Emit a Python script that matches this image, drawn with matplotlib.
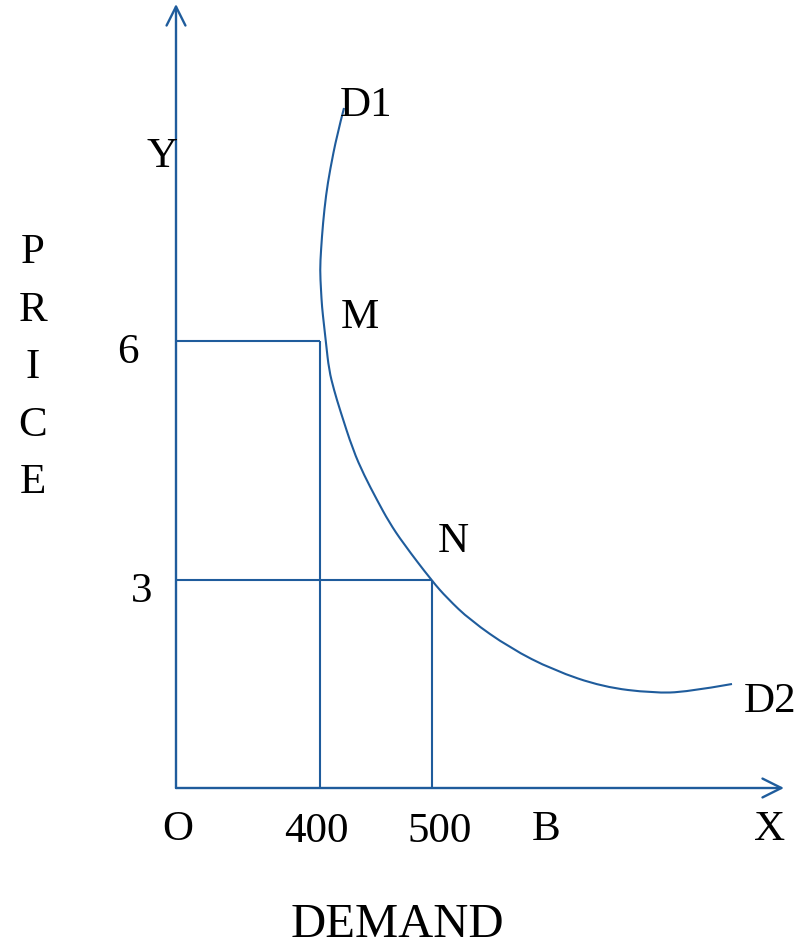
import matplotlib
matplotlib.use("Agg")
import matplotlib.pyplot as plt
from matplotlib.path import Path
from matplotlib.patches import PathPatch

# ---- data (schematic coordinates, origin O at (0, 0)) ----
curve_x = [168, 161, 154, 150, 147, 145, 144, 145, 146, 148, 150, 153, 158, 164,
           177, 188, 201, 213, 227, 256, 271, 294, 334, 377, 427, 477, 511, 556]
curve_y = [680, 653, 618, 593, 565, 538, 518, 498, 481, 463, 445, 418, 398, 378,
           338, 313, 288, 266, 245, 207, 190, 168, 140, 118, 101, 95, 96, 104]

point_names = ["M", "N"]
point_x = [144, 256]          # demand 400, 500
point_y = [447, 208]          # price 6, 3
price_labels = ["6", "3"]
demand_labels = ["400", "500"]

BLUE = "#1f5c9c"
FONT = "Liberation Serif"

fig = plt.figure(figsize=(8.06, 9.46), dpi=100)
ax = fig.add_axes([0, 0, 1, 1])
ax.set_xlim(-176, 630)
ax.set_ylim(-158, 788)
ax.axis("off")

# axes with arrows
for end in [(608, 0), (0, 784)]:
    ax.annotate("", xy=end, xytext=(0, 0),
                arrowprops=dict(arrowstyle="->", lw=1.7, color=BLUE, mutation_scale=34,
                                shrinkA=0, shrinkB=0))

# guide lines
for px, py in zip(point_x, point_y):
    ax.plot([0, px], [py, py], color=BLUE, lw=1.5, solid_capstyle="butt")
    ax.plot([px, px], [0, py], color=BLUE, lw=1.5, solid_capstyle="butt")

# demand curve: smooth quadratic path using the read points as control points
pts = list(zip(curve_x, curve_y))
verts = [pts[0]]
codes = [Path.MOVETO]
for i in range(1, len(pts) - 1):
    mid = ((pts[i][0] + pts[i + 1][0]) / 2, (pts[i][1] + pts[i + 1][1]) / 2)
    if i == len(pts) - 2:
        mid = pts[-1]
    verts += [pts[i], mid]
    codes += [Path.CURVE3, Path.CURVE3]
ax.add_patch(PathPatch(Path(verts, codes), fill=False, edgecolor=BLUE, lw=1.5))

fs = 31
tk = dict(fontfamily=FONT, color="black", fontsize=fs, ha="center", va="center")

# point labels
ax.text(184, 470, "M", **tk)
ax.text(277, 246, "N", **tk)
ax.text(190, 682, "D1", **tk)
ax.text(594, 86, "D2", **tk)

# axis labels
ax.text(-14, 631, "Y", **tk)
ax.text(594, -42, "X", **tk)
ax.text(2, -42, "O", **tk)
ax.text(370, -42, "B", **tk)
for lab, px in zip(demand_labels, point_x):
    ax.text(px - 4 if lab == "400" else px + 8, -44, lab, **tk)
for lab, py in zip(price_labels, point_y):
    ax.text(-48 if lab == "6" else -34, py - 12, lab, **tk)

# PRICE vertical letters
for i, ch in enumerate("PRICE"):
    ax.text(-143, 535 - i * 57.5, ch, **tk)

ax.text(221, -137, "DEMAND", fontfamily=FONT, fontsize=35, ha="center", va="center")

fig.savefig("out.png", dpi=100, facecolor="white")
